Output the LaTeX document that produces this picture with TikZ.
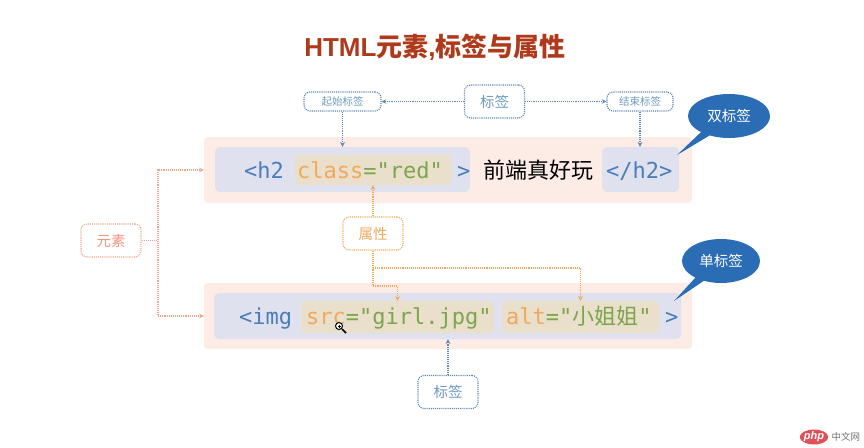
\documentclass[tikz,border=0pt]{standalone}
\usepackage{fontspec}
\setmainfont{Noto Sans CJK SC}
\newfontfamily\codefont{DejaVu Sans Mono}
\newfontfamily\cjk{Noto Sans CJK SC}
\newfontfamily\latinfont{Liberation Sans}
\usetikzlibrary{shapes.geometric, shapes.callouts, arrows, positioning}
\definecolor{titlered}{HTML}{AE3A1B}
\definecolor{outerpink}{HTML}{FDEBE6}
\definecolor{innerblue}{HTML}{DFE1EE}
\definecolor{attrtan}{HTML}{E9DFCB}
\definecolor{tagblue}{HTML}{4A7DBA}
\definecolor{attrorange}{HTML}{F0A95B}
\definecolor{valgreen}{HTML}{7BA64C}
\definecolor{notegrey}{HTML}{6F9ABF}
\definecolor{linkblue}{HTML}{5B87B5}
\definecolor{elemred}{HTML}{F3A48C}
\definecolor{bubbleblue}{HTML}{2A6DB5}
\definecolor{logored}{HTML}{E0505A}
\tikzstyle{outerbox} = [rectangle, rounded corners=4pt, minimum width=488pt, minimum height=66pt, inner sep=0pt, fill=outerpink]
\tikzstyle{innerbox} = [rectangle, rounded corners=5pt, inner sep=0pt, fill=innerblue]
\tikzstyle{attrbox} = [rectangle, rounded corners=5pt, inner sep=0pt, fill=attrtan]
\tikzstyle{code} = [anchor=base west, inner sep=0pt, font=\codefont\fontsize{22}{22}\selectfont]
\tikzstyle{tagnote} = [rectangle, rounded corners=6pt, densely dotted, line width=1.1pt, inner sep=0pt, minimum width=60pt, minimum height=33pt, draw=linkblue, text=notegrey, font=\fontsize{14.5}{14.5}\selectfont]
\tikzstyle{smallnote} = [tagnote, minimum height=19pt, font=\fontsize{10.5}{10.5}\selectfont]
\tikzstyle{attrnote} = [tagnote, draw=attrorange, text=attrorange]
\tikzstyle{elemnote} = [tagnote, draw=elemred, text=elemred!90!red]
\tikzstyle{bubble} = [ellipse callout, inner sep=0pt, minimum width=82pt, minimum height=44pt, fill=bubbleblue, text=white, font=\fontsize{14.5}{14.5}\selectfont]
\tikzstyle{bluearrow} = [line width=1.1pt, densely dotted, ->, >=stealth, draw=linkblue]
\tikzstyle{orangearrow} = [bluearrow, draw=attrorange]
\tikzstyle{redarrow} = [bluearrow, draw=elemred]
\begin{document}
\begin{tikzpicture}[x=1pt, y=-1pt]
\useasboundingbox (0,0) rectangle (864,447);

\node (title) [text=titlered, font=\fontsize{26}{26}\selectfont\bfseries, inner sep=0pt] at (435,47) {{\latinfont HTML}元素{\latinfont ,}标签与属性};

% first line
\node (outer_h2) [outerbox] at (448,170) {};
\node (open_h2) [innerbox, minimum width=255pt, minimum height=45pt] at (342.5,169.5) {};
\node (close_h2) [innerbox, minimum width=77pt, minimum height=45pt] at (640.5,169.5) {};
\node (attr_class) [attrbox, minimum width=156pt, minimum height=30pt] at (373,170) {};
\node (code_h2) [code, text=tagblue] at (244,178) {<h2};
\node (code_class) [code, text=attrorange] at (297,178) {class{\color{valgreen}="red"}};
\node (code_gt) [code, text=tagblue] at (457,178) {>};
\node (content) [inner sep=0pt, font=\fontsize{22}{22}\selectfont] at (538,170) {前端真好玩};
\node (code_close) [code, text=tagblue] at (606,178) {</h2>};

% second line
\node (outer_img) [outerbox] at (448,316) {};
\node (open_img) [innerbox, minimum width=467pt, minimum height=46pt] at (447.5,316) {};
\node (attr_src) [attrbox, minimum width=193pt, minimum height=32pt] at (397.5,317) {};
\node (attr_alt) [attrbox, minimum width=157pt, minimum height=32pt] at (580.5,317) {};
\node (code_img) [code, text=tagblue] at (239,324) {<img};
\node (code_src) [code, text=attrorange] at (306,324) {src{\color{valgreen}="girl.jpg"}};
\node (code_alt) [code, text=attrorange] at (506,324) {alt{\color{valgreen}="{\cjk 小姐姐}"}};
\node (code_end) [code, text=tagblue] at (665,324) {>};

% notes
\node (tag_top) [tagnote] at (494.5,101.5) {标签};
\node (tag_start) [smallnote, minimum width=77pt] at (342.5,101.5) {起始标签};
\node (tag_end) [smallnote, minimum width=66pt] at (640,101.5) {结束标签};
\node (attr_note) [attrnote] at (373,233.5) {属性};
\node (elem_note) [elemnote] at (111,240.5) {元素};
\node (tag_bottom) [tagnote] at (448,392) {标签};

\node (bubble_double) [bubble, callout absolute pointer={(677,155)}] at (729,116) {双标签};
\node (bubble_single) [bubble, minimum width=78pt, callout absolute pointer={(674,301)}] at (721,261) {单标签};

\coordinate (elem_bend) at (158,240.5);
\coordinate (attr_bend_alt) at (373,268);
\coordinate (attr_bend_src) at (373,286);

\draw [bluearrow] (tag_top) -- (tag_start);
\draw [bluearrow] (tag_top) -- (tag_end);
\draw [bluearrow] (tag_start.south) -- (tag_start.south |- open_h2.north);
\draw [bluearrow] (tag_end.south) -- (tag_end.south |- close_h2.north);
\draw [bluearrow] (tag_bottom.north) -- (tag_bottom.north |- open_img.south);
\draw [orangearrow] (attr_note.north) -- (attr_class.south);
\draw [orangearrow] (attr_note.south) -- (attr_bend_src) -| (attr_src.north);
\draw [orangearrow] (attr_bend_alt) -| (attr_alt.north);
\draw [redarrow] (elem_note.east) -- (elem_bend) |- (outer_h2.west);
\draw [redarrow] (elem_bend) |- (outer_img.west);

% cursor
\draw [line width=1pt, fill=white] (339,326) circle (3.5);
\draw [line width=1.6pt] (342,329) -- (346,333);
\draw [line width=0.6pt] (337.5,326) -- (340.5,326) (339,324.5) -- (339,327.5);

% logo
\node (logo) [ellipse, inner sep=0pt, minimum width=28pt, minimum height=15pt, fill=logored, text=white, font=\latinfont\fontsize{11}{11}\selectfont\bfseries\itshape] at (814,437) {php};
\node (logo_text) [right=3pt of logo, inner sep=0pt, text=black!55, font=\fontsize{9.5}{9.5}\selectfont] {中文网};
\end{tikzpicture}
\end{document}
